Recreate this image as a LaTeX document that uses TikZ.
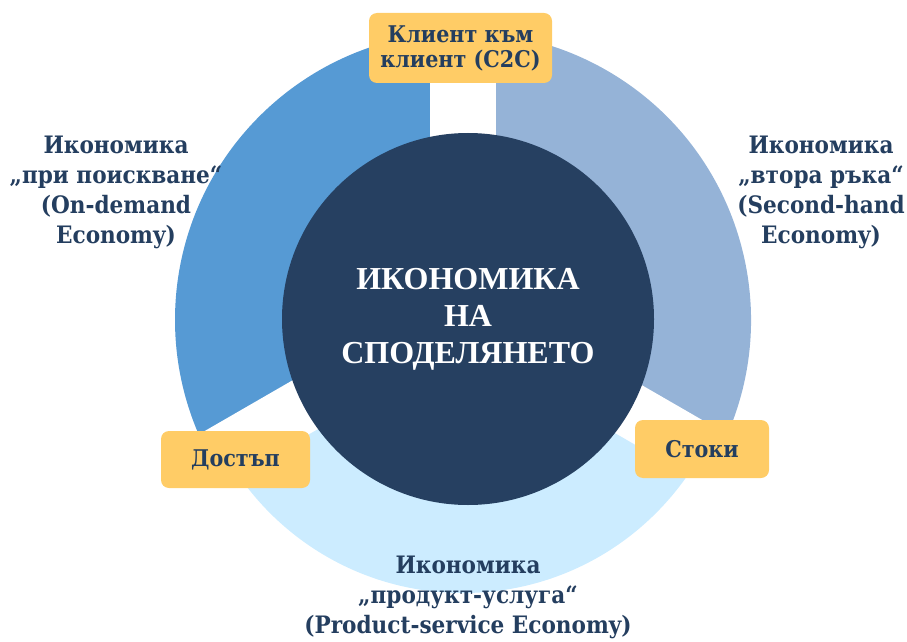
\documentclass[tikz,border=0pt]{standalone}
\usepackage{fontspec}
\setmainfont{Liberation Serif}
\IfFontExistsTF{DejaVu Serif Condensed}
  {\newfontfamily\lblfont{DejaVu Serif Condensed}}
  {\newfontfamily\lblfont{DejaVu Serif}[FakeStretch=0.9]}
\definecolor{navy}{RGB}{38,64,97}
\definecolor{txtnavy}{RGB}{36,62,95}
\definecolor{segblue}{RGB}{86,154,212}
\definecolor{seggrey}{RGB}{149,179,215}
\definecolor{seglight}{RGB}{204,236,255}
\definecolor{tagfill}{RGB}{255,204,102}
\tikzset{
  tagbox/.style={fill=tagfill, rounded corners=8pt, inner sep=0pt, align=center,
    text=txtnavy, font=\lblfont\bfseries\fontsize{23}{25}\selectfont},
  sidetext/.style={inner sep=0pt, align=center, text=txtnavy,
    font=\lblfont\bfseries\fontsize{24}{30}\selectfont},
  corecircle/.style={circle, fill=navy, minimum size=372pt, inner sep=0pt, align=center,
    text=white, font=\bfseries\fontsize{32}{37}\selectfont}
}
\begin{document}
\begin{tikzpicture}[x=1pt,y=1pt]
\useasboundingbox (0,0) rectangle (907,641);
\begin{scope}[shift={(463,321)}]
  \fill[segblue] (0,0) -- (90:288) arc[start angle=90,end angle=210,radius=288] -- cycle;
  \fill[seggrey] (0,0) -- (-30:288) arc[start angle=-30,end angle=90,radius=288] -- cycle;
  \foreach \r in {0,120,240}{\fill[white,rotate=\r] (-33,0) rectangle (33,300);}
  \begin{scope}
    \clip (0,-25.4) -- (-335.4,-219.05) -- (-335.4,-400) -- (335.4,-400) -- (335.4,-219.05) -- cycle;
    \fill[seglight] (0,0) circle[radius=273];
  \end{scope}
\end{scope}
\node[corecircle] (core) at (468,322) {ИКОНОМИКА\\НА\\СПОДЕЛЯНЕТО};
\node[tagbox, minimum width=183pt, minimum height=70pt] (c2c) at (460.5,593) {Клиент към\\клиент (C2C)};
\node[tagbox, minimum width=149pt, minimum height=57pt] (access) at (235.5,181.5) {Достъп};
\node[tagbox, minimum width=134pt, minimum height=58pt] (goods) at (702,192) {Стоки};
\node[sidetext] (ondemand) at (116,449) {Икономика\\„при поискване“\\(On-demand\\Economy)};
\node[sidetext] (secondhand) at (821,449) {Икономика\\„втора ръка“\\(Second-hand\\Economy)};
\node[sidetext] (pss) at (468,44) {Икономика\\„продукт-услуга“\\(Product-service Economy)};
\end{tikzpicture}
\end{document}
